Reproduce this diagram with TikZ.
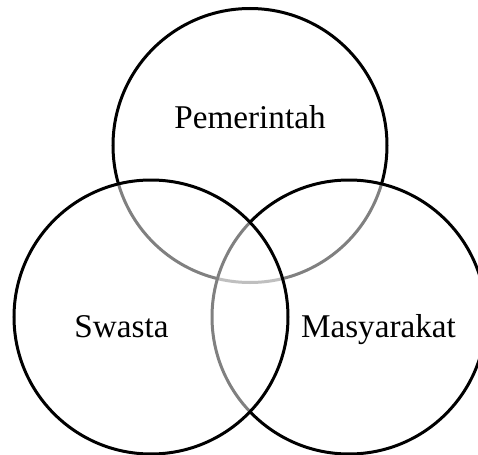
\documentclass[tikz,border=0pt]{standalone}
\usepackage{fontspec}
\setmainfont{Liberation Serif}
\begin{document}
\begin{tikzpicture}[x=0.5pt,y=-0.5pt,
  venn/.style={circle, draw=black, line width=1.5pt, fill=white, fill opacity=0.5, draw opacity=1, inner sep=0pt, minimum size=137pt},
  lbl/.style={anchor=base, inner sep=0pt, font=\fontsize{16.6pt}{20pt}\selectfont}]
\useasboundingbox (0,0) rectangle (478,455);
\node[venn] (ctop) at (250,145.5) {};
\node[venn] (cright) at (349,317) {};
\node[venn] (cleft) at (151,317) {};
\node[lbl] (tpem) at (250,128) {Pemerintah};
\node[lbl] (tswa) at (121.5,337) {Swasta};
\node[lbl] (tmas) at (378.5,337) {Masyarakat};
\end{tikzpicture}
\end{document}
